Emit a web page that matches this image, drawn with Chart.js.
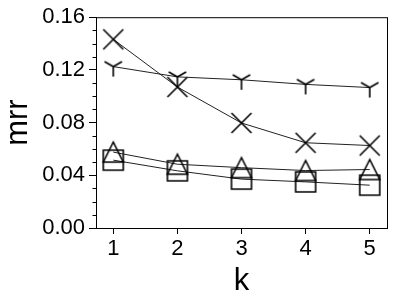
<!DOCTYPE html>
<html lang="en">

<head>
    <meta charset="UTF-8" />
    <title>mrr vs k</title>
    <script src="https://cdn.jsdelivr.net/npm/chart.js"></script>
    <style>
        body {
            margin: 0;
            background: #fff;
        }
    </style>
</head>

<body>
    <canvas id="mrrChart" width="399" height="300"></canvas>

    <script>
        // data
        const kValues = [1, 2, 3, 4, 5];
        const triDownSeries = [0.1225, 0.1147, 0.1125, 0.109, 0.1066];
        const crossSeries = [0.1432, 0.107, 0.0797, 0.0647, 0.0626];
        const triangleSeries = [0.0576, 0.0484, 0.0458, 0.0436, 0.0444];
        const squareSeries = [0.0515, 0.0434, 0.0371, 0.035, 0.0325];
        const xTicks = [1, 2, 3, 4, 5];
        const yTicks = [0, 0.04, 0.08, 0.12, 0.16];
        const yMinorTicks = [0.01, 0.02, 0.03, 0.05, 0.06, 0.07, 0.09, 0.10, 0.11, 0.13, 0.14, 0.15];

        const FONT = '"Liberation Sans", Arial, sans-serif';

        // open matplotlib-like markers drawn on small canvases
        function makeMarker(kind) {
            const s = 26;
            const c = document.createElement('canvas');
            c.width = s;
            c.height = s;
            const g = c.getContext('2d');
            const m = s / 2;
            g.strokeStyle = '#000';
            g.lineWidth = 1.6;
            g.beginPath();
            if (kind === 'x') {
                g.moveTo(m - 10, m - 10); g.lineTo(m + 10, m + 10);
                g.moveTo(m + 10, m - 10); g.lineTo(m - 10, m + 10);
            } else if (kind === 'tri') {
                g.moveTo(m, m); g.lineTo(m, m + 10);
                g.moveTo(m, m); g.lineTo(m - 8.7, m - 5);
                g.moveTo(m, m); g.lineTo(m + 8.7, m - 5);
            } else if (kind === 'triangle') {
                g.moveTo(m, m - 10); g.lineTo(m - 10, m + 10); g.lineTo(m + 10, m + 10); g.closePath();
            } else if (kind === 'square') {
                g.rect(m - 10, m - 10, 20, 20);
            }
            g.stroke();
            return c;
        }

        function series(data, kind) {
            return {
                data: kValues.map((k, i) => ({ x: k, y: data[i] })),
                borderColor: '#222',
                borderWidth: 1,
                pointStyle: makeMarker(kind),
                pointRadius: 10,
                tension: 0,
                fill: false,
            };
        }

        // frame + minor ticks
        const framePlugin = {
            id: 'frame',
            afterDraw(chart) {
                const { ctx, chartArea: a, scales } = chart;
                ctx.save();
                ctx.strokeStyle = '#000';
                ctx.lineWidth = 1;
                ctx.strokeRect(a.left + 0.5, a.top + 0.5, a.right - a.left, a.bottom - a.top);
                ctx.beginPath();
                yMinorTicks.forEach(v => {
                    const y = Math.round(scales.y.getPixelForValue(v)) + 0.5;
                    ctx.moveTo(a.left + 0.5, y);
                    ctx.lineTo(a.left - 3.5, y);
                });
                ctx.stroke();
                ctx.restore();
            }
        };

        const ctx = document.getElementById('mrrChart').getContext('2d');
        new Chart(ctx, {
            type: 'line',
            data: {
                datasets: [
                    series(triDownSeries, 'tri'),
                    series(crossSeries, 'x'),
                    series(triangleSeries, 'triangle'),
                    series(squareSeries, 'square'),
                ],
            },
            options: {
                responsive: false,
                animation: false,
                layout: { padding: { left: 0, right: 12, top: 16, bottom: 0 } },
                plugins: { legend: { display: false }, tooltip: { enabled: false } },
                scales: {
                    x: {
                        type: 'linear',
                        min: 0.73,
                        max: 5.27,
                        afterBuildTicks: s => { s.ticks = xTicks.map(v => ({ value: v })); },
                        afterFit: s => { s.height = 72; },
                        grid: { drawOnChartArea: false, tickLength: 6, color: '#000' },
                        border: { color: '#000' },
                        ticks: { color: '#000', font: { family: FONT, size: 22 }, padding: 2, maxRotation: 0 },
                        title: { display: true, text: 'k', color: '#000', font: { family: FONT, size: 31 }, padding: 0 },
                    },
                    y: {
                        min: 0,
                        max: 0.16,
                        afterBuildTicks: s => { s.ticks = yTicks.map(v => ({ value: v })); },
                        afterFit: s => { s.width = 96; },
                        grid: { drawOnChartArea: false, tickLength: 7, color: '#000' },
                        border: { color: '#000' },
                        ticks: { color: '#000', font: { family: FONT, size: 22 }, padding: 4, callback: v => v.toFixed(2) },
                        title: { display: true, text: 'mrr', color: '#000', font: { family: FONT, size: 31 }, padding: 0 },
                    },
                },
            },
            plugins: [framePlugin],
        });
    </script>
</body>

</html>
